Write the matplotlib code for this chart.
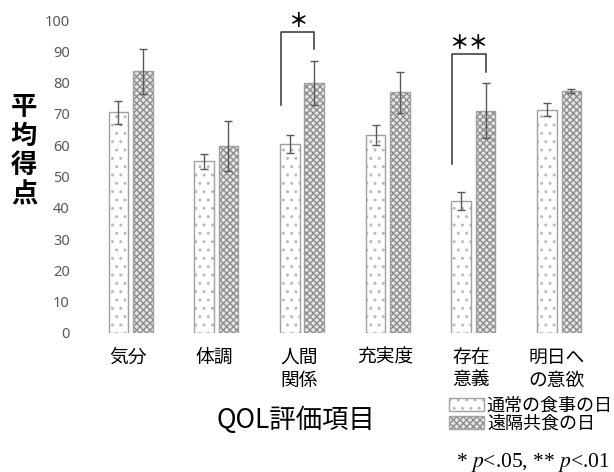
import numpy as np
import matplotlib
matplotlib.use('Agg')
import matplotlib.pyplot as plt
from matplotlib.patches import Patch
from matplotlib.legend_handler import HandlerTuple

plt.rcParams['font.family'] = ['Noto Sans CJK JP', 'DejaVu Sans']
plt.rcParams['mathtext.fontset'] = 'stix'
plt.rcParams['hatch.linewidth'] = 1.0

# QOL scores (mean and error) for the two kinds of day
categories = ['気分', '体調', '人間\n関係', '充実度', '存在\n意義', '明日へ\nの意欲']
normal_mean = [70.5, 54.8, 60.4, 63.2, 42.2, 71.3]
normal_err = [3.7, 2.4, 3.0, 3.2, 2.9, 2.1]
remote_mean = [83.6, 59.8, 79.9, 76.9, 71.0, 77.4]
remote_err = [7.2, 8.0, 7.0, 6.5, 8.8, 0.6]
series_names = ['通常の食事の日', '遠隔共食の日']

# significance brackets: (category index, left foot, top, right foot, mark)
brackets = [(2, 72.8, 96.3, 90.6, '＊'), (4, 54.0, 89.0, 83.3, '＊＊')]

border = '#a0a0a0'
dot_col = '#bbbbbb'
cross_col = '#8c8c8c'
cross_bg = '#e6e6e6'
err_col = '#595959'

fig = plt.figure(figsize=(6.14, 4.72), dpi=100)
ax = fig.add_axes([87.7 / 614, 139 / 472, 514.3 / 614, 313 / 472])

x = np.arange(len(categories))
off = 0.142
w = 0.228

# patterned fill first, plain outline on top
ax.bar(x - off, normal_mean, w, color='white', edgecolor=dot_col, hatch='..', lw=0)
ax.bar(x - off, normal_mean, w, fill=False, edgecolor=border, lw=1)
ax.bar(x + off, remote_mean, w, color=cross_bg, edgecolor=cross_col, hatch='xxxxx', lw=0)
ax.bar(x + off, remote_mean, w, fill=False, edgecolor=border, lw=1)

ax.errorbar(x - off, normal_mean, yerr=normal_err, fmt='none', ecolor=err_col,
            elinewidth=1, capsize=3.2, capthick=1)
ax.errorbar(x + off, remote_mean, yerr=remote_err, fmt='none', ecolor=err_col,
            elinewidth=1, capsize=3.2, capthick=1)

for i, y_left, y_top, y_right, mark in brackets:
    xl = i - off - w / 2 + 0.01
    xr = i + off
    ax.plot([xl, xl, xr, xr], [y_left, y_top, y_top, y_right], color='#333333', lw=1.1)
    ax.text((xl + xr) / 2, y_top + 0.3, mark, ha='center', va='bottom', fontsize=14,
            fontweight='bold')

ax.set_xlim(-0.5, len(categories) - 0.5)
ax.set_ylim(0, 100)
ax.set_yticks(np.arange(0, 101, 10))
ax.set_xticks(x - 0.03)
ax.set_xticklabels(categories, fontsize=13.5, linespacing=1.1, multialignment='left')
for s in ax.spines.values():
    s.set_visible(False)
ax.tick_params(axis='both', length=0)
ax.tick_params(axis='x', pad=10)
ax.tick_params(axis='y', pad=13, labelcolor='#595959')
for lab in ax.get_yticklabels():
    lab.set_fontfamily('Noto Sans')
    lab.set_fontsize(10.5)

# y axis title, one character per line
fig.text(24 / 614, 1 - 151 / 472, '平\n均\n得\n点', ha='center', va='center',
         fontsize=19, fontweight='bold', linespacing=1.1)
fig.text(296 / 614, 1 - 420 / 472, 'QOL評価項目', ha='center', va='center', fontsize=19)

handles = [
    (Patch(facecolor='white', edgecolor=dot_col, hatch='..', lw=0),
     Patch(fill=False, edgecolor=border, lw=1)),
    (Patch(facecolor=cross_bg, edgecolor=cross_col, hatch='xxxxx', lw=0),
     Patch(fill=False, edgecolor=border, lw=1)),
]
fig.legend(handles, series_names, handler_map={tuple: HandlerTuple(ndivide=1)},
           loc='upper left', bbox_to_anchor=(449 / 614, 1 - 397 / 472),
           frameon=False, fontsize=13, handlelength=1.95, handleheight=0.75,
           handletextpad=0.15, labelspacing=0.0, borderpad=0, borderaxespad=0)

fig.text(610 / 614, 1 - 462 / 472, r'* $p$<.05, ** $p$<.01', ha='right', va='center',
         fontsize=15.5, family='Liberation Serif')

fig.savefig('out.png', dpi=100)
